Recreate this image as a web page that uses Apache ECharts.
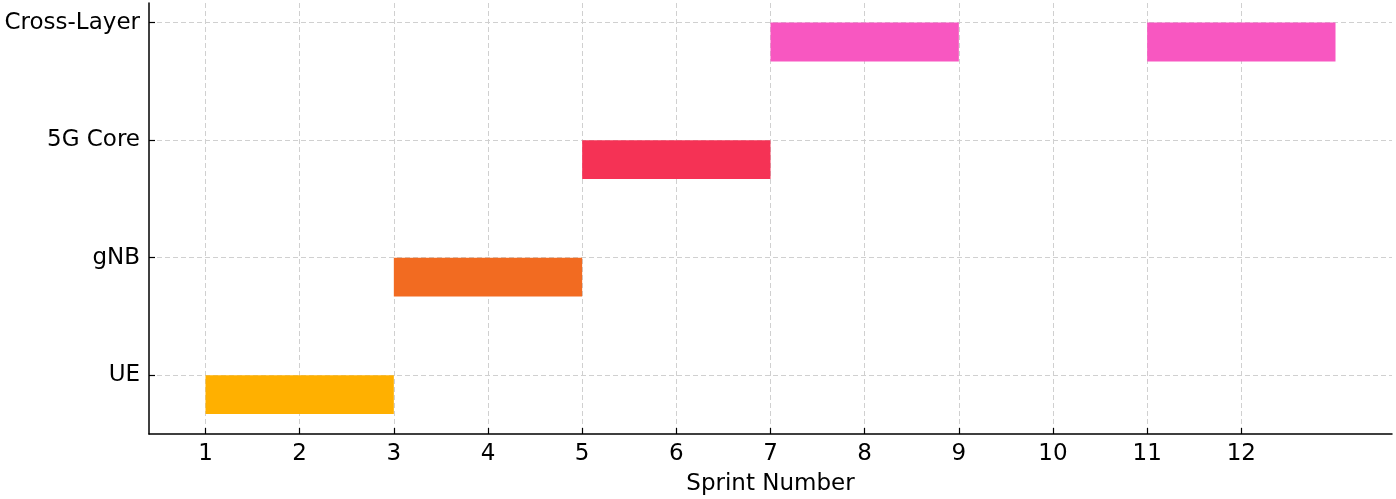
<!DOCTYPE html>
<html>
<head>
<meta charset="utf-8">
<script src="https://cdn.jsdelivr.net/npm/echarts@6/dist/echarts.min.js"></script>
<style>
html, body { margin: 0; padding: 0; background: #fff; }
#chart { width: 1396px; height: 499px; }
</style>
</head>
<body>
<div id="chart"></div>
<script>
// teams on the y axis, bottom to top
var teams = ['UE', 'gNB', '5G Core', 'Cross-Layer'];
var teamColors = ['#FFB000', '#F26B21', '#F53255', '#F857C1'];
// work blocks: [start sprint, end sprint, team index]
var tasks = [
    [1, 3, 0],
    [3, 5, 1],
    [5, 7, 2],
    [7, 9, 3],
    [11, 13, 3]
];
var sprintTicks = [1, 2, 3, 4, 5, 6, 7, 8, 9, 10, 11, 12];
var teamTicks = [0, 1, 2, 3];

var barHeight = 0.33;
var font = 'DejaVu Sans';

var chart = echarts.init(document.getElementById('chart'));

function renderItem(params, api) {
    var p1 = api.coord([api.value(0), api.value(2)]);
    var p2 = api.coord([api.value(1), api.value(2) - barHeight]);
    return {
        type: 'rect',
        shape: { x: p1[0], y: p1[1], width: p2[0] - p1[0], height: p2[1] - p1[1] },
        style: { fill: teamColors[api.value(2)] }
    };
}

var option = {
    animation: false,
    backgroundColor: '#fff',
    grid: { left: 149, right: 4, top: 3, bottom: 65, outerBoundsMode: 'none', containLabel: false },
    xAxis: {
        type: 'value',
        min: 0.4,
        max: 13.6,
        name: 'Sprint Number',
        nameLocation: 'middle',
        nameGap: 39,
        nameTextStyle: { fontFamily: font, fontSize: 23, color: '#000' },
        axisLine: { show: true, onZero: false, lineStyle: { color: '#000', width: 1.5 } },
        axisTick: { show: true, inside: true, length: 6, customValues: sprintTicks, lineStyle: { color: '#000', width: 1.2 } },
        axisLabel: { customValues: sprintTicks, fontFamily: font, fontSize: 23, color: '#000', margin: 9 },
        splitLine: { show: true, lineStyle: { color: '#d0d0d0', type: [5, 3], width: 1 } }
    },
    yAxis: {
        type: 'value',
        min: -0.5,
        max: 3.1667,
        axisLine: { show: true, onZero: false, lineStyle: { color: '#000', width: 1.5 } },
        axisTick: { show: true, inside: true, length: 6, customValues: teamTicks, lineStyle: { color: '#000', width: 1.2 } },
        axisLabel: {
            customValues: teamTicks,
            fontFamily: font, fontSize: 23, color: '#000', margin: 9,
            formatter: function (v) { return teams[Math.round(v)]; }
        },
        splitLine: { show: true, lineStyle: { color: '#d0d0d0', type: [5, 3], width: 1 } }
    },
    series: [{
        type: 'custom',
        renderItem: renderItem,
        encode: { x: [0, 1], y: 2 },
        data: tasks
    }]
};
chart.setOption(option);
</script>
</body>
</html>
